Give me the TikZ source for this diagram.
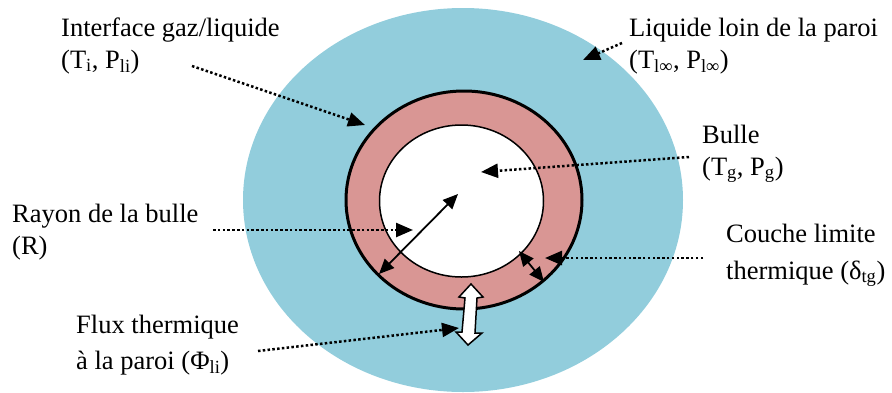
\documentclass[tikz,border=0pt]{standalone}
\usepackage{fontspec}
\setmainfont{Liberation Serif}
\usetikzlibrary{arrows.meta}
\definecolor{liquidblue}{RGB}{146,205,220}
\definecolor{layerpink}{RGB}{217,150,148}
\tikzset{
  note/.style={anchor=base west, align=left, inner sep=0pt, font=\fontsize{26.5}{32}\selectfont},
  pointer/.style={line width=2.5pt, dash pattern=on 2.5pt off 2.3pt, -{Triangle[length=17pt,width=14pt]}},
  measure/.style={line width=1.8pt, {Triangle[length=15pt,width=13pt]}-{Triangle[length=15pt,width=13pt]}},
}
\begin{document}
\begin{tikzpicture}[x=1pt,y=-1pt]
  \useasboundingbox (0,0) rectangle (892,392);
  % liquide, couche limite, bulle
  \fill[liquidblue] (463,200) ellipse [x radius=220, y radius=192];
  \draw[line width=3pt, fill=layerpink] (464,200) ellipse [x radius=118, y radius=109];
  \draw[line width=1.5pt, fill=white] (461.5,201) ellipse [x radius=82, y radius=76];
  % flux a la paroi
  \draw[line width=1.5pt, fill=white, line join=miter]
    (471,284) -- (483,297) -- (477,298) -- (475,333) -- (482,333) -- (468,345)
    -- (456,332) -- (462,332) -- (465,298) -- (459,297) -- cycle;

  % base = baseline of the last line
  \node[note] (iface) at (61,68) {Interface gaz/liquide\\(T\textsubscript{i}, P\textsubscript{li})};
  \node[note] (far) at (629,68) {Liquide loin de la paroi\\(T\textsubscript{l∞}, P\textsubscript{l∞})};
  \node[note] (bubble) at (702,175) {Bulle\\(T\textsubscript{g}, P\textsubscript{g})};
  \node[note] (radius) at (12,254) {Rayon de la bulle\\(R)};
  \node[note] (layer) at (726,279) {Couche limite\\[5pt]thermique (δ\textsubscript{tg})};
  \node[note] (flux) at (76,369) {Flux thermique\\[4pt]à la paroi (Φ\textsubscript{li})};

  \coordinate (iface tail) at (192,66);
  \coordinate (iface tip) at (365,125);
  \coordinate (far tail) at (622,43);
  \coordinate (far tip) at (583,60);
  \coordinate (bubble tail) at (689,157);
  \coordinate (bubble tip) at (481,172);
  \coordinate (radius tail) at (213,230);
  \coordinate (radius tip) at (413,230);
  \coordinate (layer tail) at (703,258);
  \coordinate (layer tip) at (545,258);
  \coordinate (flux tail) at (258,351);
  \coordinate (flux tip) at (459,328);
  \coordinate (r in) at (458,194);
  \coordinate (r out) at (379,274);
  \coordinate (d in) at (519,251);
  \coordinate (d out) at (544,282);

  \draw[pointer] (iface tail) -- (iface tip);
  \draw[pointer] (far tail) -- (far tip);
  \draw[pointer] (bubble tail) -- (bubble tip);
  \draw[pointer] (radius tail) -- (radius tip);
  \draw[pointer] (layer tail) -- (layer tip);
  \draw[pointer] (flux tail) -- (flux tip);
  \draw[measure] (r out) -- (r in);
  \draw[measure] (d in) -- (d out);
\end{tikzpicture}
\end{document}
